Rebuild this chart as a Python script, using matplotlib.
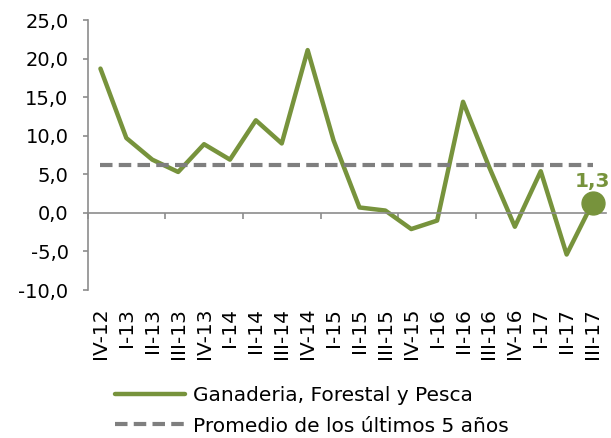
import numpy as np
import matplotlib.pyplot as plt
import matplotlib.transforms as mtransforms

quarters = ['IV-12', 'I-13', 'II-13', 'III-13', 'IV-13', 'I-14', 'II-14', 'III-14',
            'IV-14', 'I-15', 'II-15', 'III-15', 'IV-15', 'I-16', 'II-16', 'III-16',
            'IV-16', 'I-17', 'II-17', 'III-17']
ganaderia = [18.7, 9.7, 6.9, 5.3, 8.9, 6.9, 12.0, 9.0, 21.1, 9.4, 0.7, 0.3,
             -2.1, -1.0, 14.4, 6.0, -1.8, 5.4, -5.4, 1.3]
promedio = [6.2] * len(quarters)
yticks = np.arange(-10, 26, 5)

green = '#77933C'
gray_dash = '#7F7F7F'
axis_gray = '#8C8C8C'

plt.rcParams['font.family'] = ['DejaVu Sans']

fig = plt.figure(figsize=(6.11, 4.38), dpi=100)
ax = fig.add_axes([87.5/611, 1-290/438, (605.5-87.5)/611, (290-20)/438])

x = np.arange(len(quarters))
l1, = ax.plot(x, ganaderia, color=green, lw=3.2, solid_capstyle='round',
              label='Ganaderia, Forestal y Pesca')
l2, = ax.plot(x, promedio, color=gray_dash, lw=3, dashes=(3.0, 1.5),
              label='Promedio de los últimos 5 años')
ax.plot(x[-1], ganaderia[-1], 'o', color=green, ms=16.5, zorder=5)
ax.annotate(f'{ganaderia[-1]:.1f}'.replace('.', ','), (x[-1], ganaderia[-1]),
            xytext=(0, 11.5), textcoords='offset points',
            ha='center', va='baseline', color=green, fontsize=14.5, fontweight='bold')

ax.set_xlim(-0.5, len(quarters) - 0.5)
ax.set_ylim(-10, 25)
ax.set_yticks(yticks)
ax.set_yticklabels([f'{v:.1f}'.replace('.', ',') for v in yticks], fontsize=14)

for s in ['top', 'right']:
    ax.spines[s].set_visible(False)
for s in ['left', 'bottom']:
    ax.spines[s].set_color(axis_gray)
    ax.spines[s].set_linewidth(1.2)
ax.spines['bottom'].set_position(('data', 0))
ax.tick_params(axis='y', colors=axis_gray, labelcolor='black', length=3.6, width=1.2,
               direction='out', pad=10)
ax.set_xticks(np.arange(-0.5, len(quarters), 3))
ax.set_xticklabels([])
ax.tick_params(axis='x', colors=axis_gray, length=4.5, width=1.2, direction='out')

trans = mtransforms.blended_transform_factory(ax.transData, ax.transAxes)
for i, q in enumerate(quarters):
    ax.text(i, -0.066, q, transform=trans, rotation=90, ha='center', va='top', fontsize=14.5)

fig.legend(handles=[l1, l2], loc='center left', bbox_to_anchor=(115/611, 1-411/438),
           frameon=False, fontsize=14.5, handlelength=3.5, handletextpad=0.35,
           labelspacing=0.55, borderpad=0, borderaxespad=0)

fig.savefig('out.png', dpi=100)
